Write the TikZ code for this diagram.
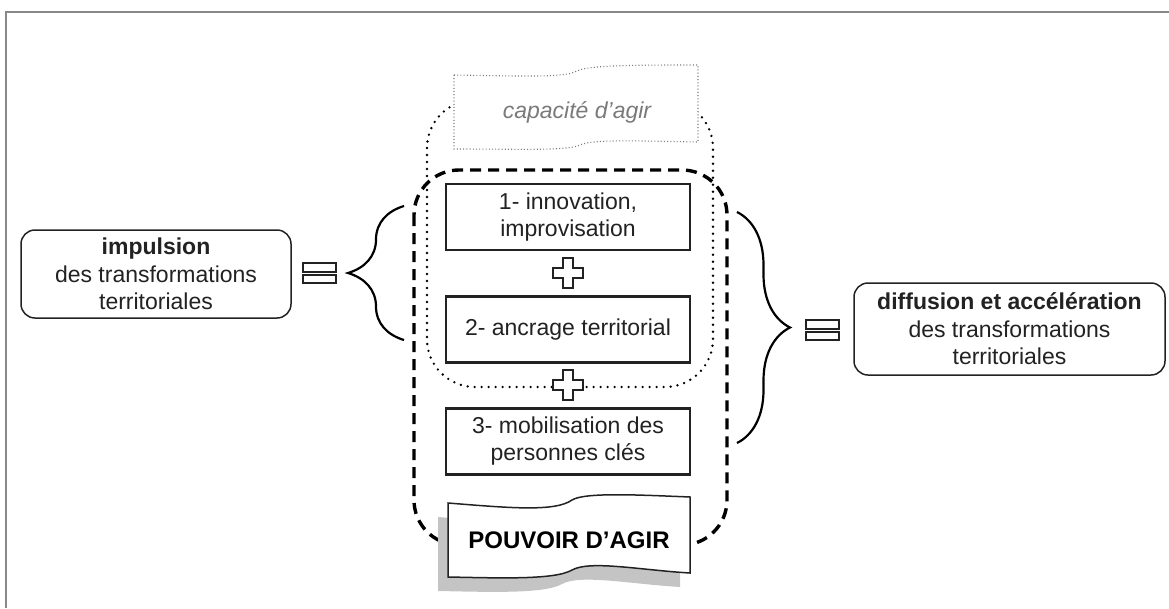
\documentclass[tikz,border=0pt]{standalone}
\usepackage{fontspec}
\setmainfont{Liberation Sans}
\usetikzlibrary{decorations.pathreplacing}
\definecolor{inkgray}{HTML}{222222}
\definecolor{framegray}{HTML}{888888}
\definecolor{capgray}{HTML}{7A7A7A}
\definecolor{shadowgray}{HTML}{C4C4C4}
\begin{document}
\begin{tikzpicture}
[x=1pt,y=-1pt,
  framedecorate/.style={draw=framegray,line width=2.2pt},%
  stepdecorate/.style={shape=rectangle,draw=inkgray,line width=2.2pt,fill=white,
    minimum width=244pt,minimum height=66pt,align=center,text=inkgray,
    font=\fontsize{23}{27}\selectfont},%
  sidedecorate/.style={shape=rectangle,rounded corners=14pt,draw=inkgray,
    line width=1.5pt,align=center,text=inkgray,font=\fontsize{23}{27.5}\selectfont},%
  plusdecorate/.style={draw=inkgray,line width=1.5pt,fill=white},%
  equaldecorate/.style={draw=inkgray,line width=1.5pt,fill=white},%
  bracedecorate/.style={decorate,draw=black,line width=2.2pt},%
  dashdecorate/.style={draw=black,line width=3.4pt,dash pattern=on 11pt off 7pt},%
  dotdecorate/.style={draw=black,line width=2.6pt,line cap=round,dash pattern=on 0pt off 7pt},%
  bannerdecorate/.style={draw=capgray,line width=1.1pt,dash pattern=on 1pt off 2.2pt,fill=white}]
\useasboundingbox (0,0) rectangle (1169,608);
%% frame
\draw[framedecorate] (6,608) -- (6,12) -- (1169,12);
%% capacite and pouvoir outlines
\draw[dotdecorate,rounded corners=48pt] (427,100) rectangle (713,387);
\draw[dashdecorate,rounded corners=45pt] (414,170) rectangle (727,545);
%% capacite banner
\draw[bannerdecorate] (454,75) .. controls (520,76) and (565,78) .. (577,71)
  .. controls (588,65) and (640,65) .. (698,65) -- (698,142)
  .. controls (640,141) and (592,139) .. (580,145)
  .. controls (568,151) and (520,149) .. (454,149) -- cycle;
\node (capacity) at (577,112) [text=capgray,font=\fontsize{23}{27}\selectfont\itshape] {capacité d’agir};
%% steps
\foreach \nodename/\y/\txt in {stepa/217/{1- innovation,\\improvisation},
  stepb/329.5/{2- ancrage territorial}, stepc/441.5/{3- mobilisation des\\personnes clés}} {
  \node (\nodename) at (568,\y) [stepdecorate] {\txt};
}
%% plus signs
\foreach \y in {273,385} {
  \draw[plusdecorate] (563,\y-15) -- ++(10,0) -- ++(0,10) -- ++(10,0) -- ++(0,10)
    -- ++(-10,0) -- ++(0,10) -- ++(-10,0) -- ++(0,-10) -- ++(-10,0) -- ++(0,-10)
    -- ++(10,0) -- cycle;
}
%% pouvoir banner with shadow
\fill[shadowgray,shift={(-10,14)}] (448,503) .. controls (510,508) and (555,512) .. (572,500)
  .. controls (585,492) and (640,495) .. (690,497) -- (690,573)
  .. controls (640,570) and (590,560) .. (572,570)
  .. controls (555,580) and (500,578) .. (448,577) -- cycle;
\draw[draw=inkgray,line width=1.5pt,fill=white] (448,503) .. controls (510,508) and (555,512) .. (572,500)
  .. controls (585,492) and (640,495) .. (690,497) -- (690,573)
  .. controls (640,570) and (590,560) .. (572,570)
  .. controls (555,580) and (500,578) .. (448,577) -- cycle;
\node (power) at (569,540) [text=black,font=\fontsize{24}{28}\selectfont\bfseries] {POUVOIR D’AGIR};
%% side boxes
\node (impulse) at (156,274) [sidedecorate,minimum width=270pt,minimum height=88pt]
  {\textbf{impulsion}\\des transformations\\territoriales};
\node (spread) at (1009.5,329) [sidedecorate,minimum width=311pt,minimum height=92pt]
  {\textbf{diffusion et accélération}\\des transformations\\territoriales};
%% braces
\coordinate (lbtop) at (404,206);
\coordinate (lbbot) at (404,340);
\coordinate (rbtop) at (737,212);
\coordinate (rbbot) at (737,443);
\draw[bracedecorate,decoration={brace,amplitude=56pt}] (lbbot) -- (lbtop);
\draw[bracedecorate,decoration={brace,amplitude=53pt}] (rbtop) -- (rbbot);
%% equal signs
\foreach \x/\y in {303/263, 806/320} {
  \draw[equaldecorate] (\x,\y) rectangle ++(33,9);
  \draw[equaldecorate] (\x,\y+12) rectangle ++(33,8);
}
\end{tikzpicture}
\end{document}
